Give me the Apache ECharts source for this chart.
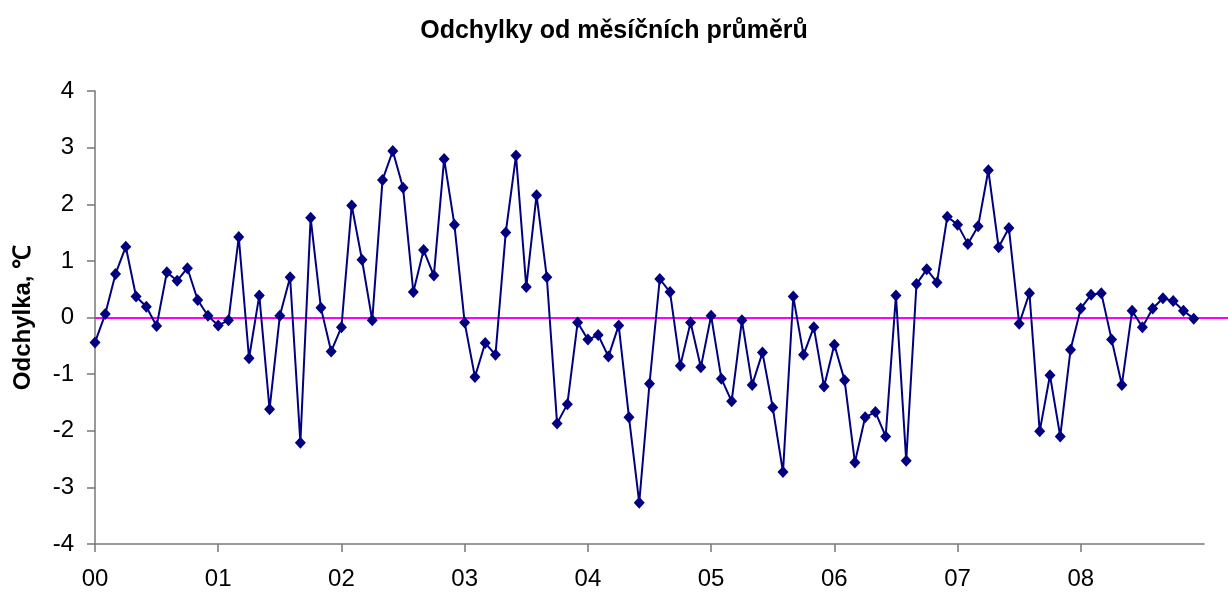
<!DOCTYPE html>
<html>
<head>
<meta charset="utf-8">
<script src="https://cdn.jsdelivr.net/npm/echarts@6/dist/echarts.min.js"></script>
<style>
  html, body { margin: 0; padding: 0; background: #fff; }
  #chart { width: 1228px; height: 595px; }
</style>
</head>
<body>
<div id="chart"></div>
<script>
// monthly deviations 2000-01 .. 2008-12 (°C)
const y2000 = [-0.44, 0.06, 0.77, 1.25, 0.37, 0.19, -0.15, 0.80, 0.65, 0.87, 0.31, 0.03];
const y2001 = [-0.14, -0.05, 1.42, -0.72, 0.39, -1.62, 0.03, 0.71, -2.21, 1.76, 0.17, -0.60];
const y2002 = [-0.17, 1.98, 1.02, -0.05, 2.43, 2.94, 2.29, 0.45, 1.19, 0.74, 2.80, 1.64];
const y2003 = [-0.09, -1.05, -0.45, -0.66, 1.50, 2.86, 0.54, 2.16, 0.71, -1.87, -1.53, -0.09];
const y2004 = [-0.39, -0.31, -0.69, -0.14, -1.76, -3.27, -1.17, 0.68, 0.45, -0.85, -0.09, -0.88];
const y2005 = [0.03, -1.08, -1.48, -0.05, -1.19, -0.62, -1.59, -2.73, 0.37, -0.66, -0.17, -1.22];
const y2006 = [-0.48, -1.11, -2.56, -1.76, -1.67, -2.10, 0.39, -2.53, 0.59, 0.85, 0.62, 1.78];
const y2007 = [1.64, 1.30, 1.61, 2.60, 1.24, 1.58, -0.11, 0.43, -2.01, -1.02, -2.10, -0.57];
const y2008 = [0.16, 0.40, 0.43, -0.39, -1.19, 0.12, -0.17, 0.16, 0.34, 0.29, 0.12, -0.02];

const yearLabels = ['00', '01', '02', '03', '04', '05', '06', '07', '08'];
const yearTicks = [0, 12, 24, 36, 48, 60, 72, 84, 96];
const monthCount = 108;

const deviations = [].concat(y2000, y2001, y2002, y2003, y2004, y2005, y2006, y2007, y2008);
const points = deviations.map((v, i) => [i, v]);

const chart = echarts.init(document.getElementById('chart'));

const font = 'Liberation Sans, Arial, sans-serif';
const axisGray = '#777777';

const option = {
  backgroundColor: '#ffffff',
  animation: false,
  title: {
    text: 'Odchylky od měsíčních průměrů',
    left: 'center',
    top: 14,
    textStyle: { fontFamily: font, fontSize: 25, fontWeight: 'bold', color: '#000' }
  },
  grid: [
    { left: 95, right: 24, top: 91, bottom: 51 },
    // zero reference line runs past the plot to the page edge
    { left: 95, right: 0, top: 91, bottom: 51 }
  ],
  xAxis: [{
    type: 'value',
    gridIndex: 0,
    min: 0,
    max: monthCount,
    axisLine: { show: true, onZero: false, lineStyle: { color: axisGray, width: 1.5 } },
    axisTick: { show: true, length: 8, customValues: yearTicks, lineStyle: { color: axisGray, width: 1.5 } },
    axisLabel: {
      customValues: yearTicks,
      margin: 23,
      fontFamily: font, fontSize: 24, color: '#000',
      formatter: v => yearLabels[yearTicks.indexOf(v)] || ''
    },
    splitLine: { show: false }
  }, {
    type: 'value', gridIndex: 1, min: 0, max: 1, show: false
  }],
  yAxis: [{
    type: 'value',
    gridIndex: 0,
    min: -4,
    max: 4,
    interval: 1,
    name: 'Odchylka, ℃',
    nameLocation: 'middle',
    nameGap: 60,
    nameTextStyle: { fontFamily: font, fontSize: 24, fontWeight: 'bold', color: '#000' },
    axisLine: { show: true, lineStyle: { color: axisGray, width: 1.5 } },
    axisTick: { show: true, length: 8, lineStyle: { color: axisGray, width: 1.5 } },
    axisLabel: { margin: 21, fontFamily: font, fontSize: 24, color: '#000' },
    splitLine: { show: false }
  }, {
    type: 'value', gridIndex: 1, min: -4, max: 4, show: false
  }],
  series: [{
    type: 'line',
    xAxisIndex: 1,
    yAxisIndex: 1,
    data: [],
    silent: true,
    markLine: {
      symbol: 'none',
      silent: true,
      label: { show: false },
      lineStyle: { color: '#ff00ff', width: 2, type: 'solid' },
      data: [{ yAxis: 0 }]
    }
  }, {
    type: 'line',
    data: points,
    symbol: 'diamond',
    symbolSize: [11, 12],
    color: '#000080',
    lineStyle: { color: '#000080', width: 2 },
    itemStyle: { color: '#000080' },
    z: 5
  }]
};

chart.setOption(option);
</script>
</body>
</html>
